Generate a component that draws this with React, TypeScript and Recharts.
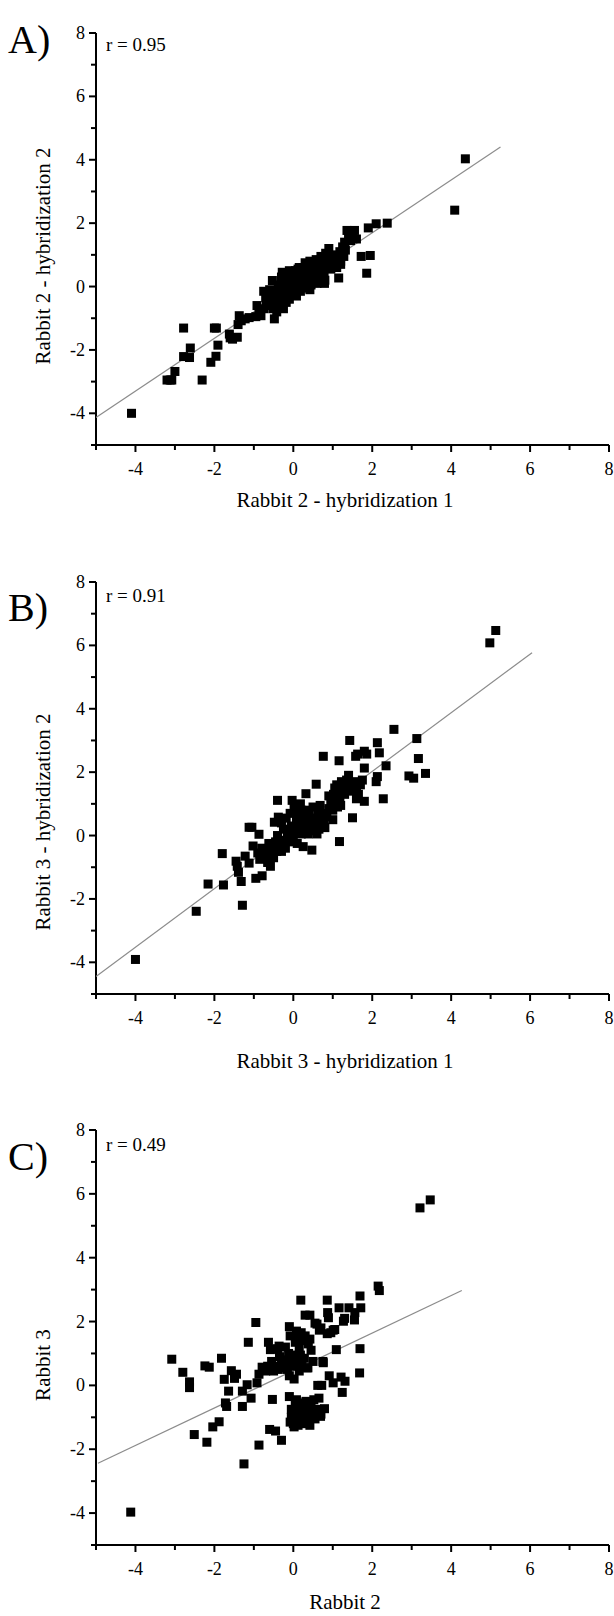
import React from "react";
import { ScatterChart, Scatter, XAxis, YAxis } from "recharts";

// ---------- data ----------
const axisTicks = [-5, -4, -3, -2, -1, 0, 1, 2, 3, 4, 5, 6, 7, 8];
const axisDomain: [number, number] = [-5, 8];

const pointsA: [number, number][] = [
  [-4.1, -4.0], [4.36, 4.03], [4.09, 2.41], [2.38, 2.0], [2.1, 1.98], [1.9, 1.85], [1.36, 1.77], [1.55, 1.77],
  [1.6, 1.5], [1.95, 0.98], [1.72, 0.95], [1.86, 0.42], [1.15, 0.27], [0.79, 0.1], [0.42, -0.1],
  [-2.78, -1.31], [-2.0, -1.31], [-1.95, -1.31], [-2.61, -1.94], [-2.78, -2.21], [-2.63, -2.24], [-1.91, -1.85],
  [-1.96, -2.2], [-2.09, -2.39], [-2.31, -2.95], [-3.2, -2.95], [-3.08, -2.95], [-3.0, -2.68], [-3.12, -2.95],
  [-1.62, -1.5], [-1.54, -1.66], [-1.42, -1.6], [-1.6, -1.62],
  [-1.37, -0.92], [-1.32, -1.08], [-1.22, -1.02], [-1.4, -1.2], [-1.12, -0.98],
  [-0.92, -0.6], [-0.82, -0.92], [-0.87, -0.81], [-0.95, -0.95], [-0.75, -0.7],
  [-0.48, -1.02], [-0.53, 0.19], [-0.28, 0.45],
  [-0.75, -0.15], [-0.7, -0.35], [-0.68, -0.5], [-0.65, -0.25], [-0.6, -0.6], [-0.6, -0.1], [-0.55, -0.45],
  [-0.52, -0.7], [-0.5, -0.3], [-0.48, -0.55], [-0.45, -0.15], [-0.42, -0.8], [-0.4, -0.4], [-0.38, 0.05],
  [-0.35, -0.6], [-0.32, -0.25], [-0.3, -0.45], [-0.28, -0.05], [-0.25, -0.7], [-0.22, -0.35], [-0.2, 0.1],
  [-0.18, -0.5], [-0.15, -0.2], [-0.12, 0.25], [-0.1, -0.4], [-0.08, 0.0], [-0.05, 0.35], [-0.03, -0.25],
  [0.0, 0.15], [0.02, -0.1], [0.05, 0.5], [0.05, 0.3], [0.08, -0.3], [0.1, 0.05], [0.12, 0.55], [0.15, 0.2],
  [0.18, -0.15], [0.2, 0.4], [0.22, 0.1], [0.25, 0.6], [0.28, 0.3], [0.3, -0.05], [0.32, 0.45], [0.35, 0.15],
  [0.38, 0.7], [0.4, 0.35], [0.42, 0.8], [0.45, 0.05], [0.48, 0.5], [0.5, 0.25], [0.52, 0.7], [0.55, 0.4],
  [0.58, 0.85], [0.6, 0.1], [0.62, 0.55], [0.65, 0.75], [0.68, 0.3], [0.7, 0.95], [0.72, 0.6], [0.75, 0.8],
  [0.78, 0.4], [0.8, 0.2], [0.82, 1.05], [0.85, 0.65], [0.9, 1.2], [0.92, 0.85], [0.95, 0.55], [1.0, 1.0],
  [1.05, 0.75], [1.1, 0.6], [1.12, 0.95], [1.18, 1.1], [1.2, 0.8], [1.25, 1.25], [1.28, 0.95], [1.3, 1.4],
  [1.32, 1.15], [1.4, 1.55], [1.45, 1.45], [1.5, 1.6], [1.2, 0.7], [1.0, 0.85], [0.88, 0.75], [-0.3, 0.3],
  [-0.1, 0.5], [0.15, 0.6], [0.3, 0.75], [0.45, 0.7],
];

const pointsB: [number, number][] = [
  [-4.0, -3.91], [4.98, 6.08], [5.13, 6.47], [-2.46, -2.39], [-2.16, -1.53], [-1.77, -1.56], [-1.8, -0.57],
  [-1.29, -2.2], [2.55, 3.35], [1.43, 3.0], [2.13, 2.93], [3.13, 3.06], [3.17, 2.43], [3.35, 1.96],
  [2.93, 1.88], [3.05, 1.81], [2.35, 2.2], [2.18, 2.61], [1.8, 2.66], [1.86, 2.57], [1.58, 2.5], [1.63, 2.57],
  [1.8, 2.13], [2.13, 1.86], [2.1, 1.7], [2.28, 1.16], [1.8, 1.08], [1.6, 1.16], [1.5, 0.56], [1.16, 2.36],
  [0.76, 2.5], [0.58, 1.62], [0.32, 1.32], [-0.4, 1.11], [-0.03, 1.11], [1.17, -0.19], [0.47, -0.46],
  [-1.05, 0.26], [-1.12, 0.26], [-0.87, 0.04], [-1.02, -0.33], [-0.95, -1.35], [-0.79, -1.27], [-0.58, -0.97],
  [-1.45, -0.81], [-1.42, -0.97], [-1.39, -1.16], [-1.32, -1.45], [-1.22, -0.65], [-1.12, -0.87],
  [-0.48, 0.42], [-0.38, 0.58],
  [-0.9, -0.55], [-0.85, -0.75], [-0.8, -0.4], [-0.75, -0.65], [-0.7, -0.5], [-0.65, -0.85], [-0.62, -0.25],
  [-0.6, -0.6], [-0.55, -0.35], [-0.5, -0.7], [-0.45, -0.2], [-0.42, -0.5], [-0.4, 0.0], [-0.35, -0.35],
  [-0.3, 0.4], [-0.28, -0.15], [-0.25, 0.2], [-0.2, -0.4], [-0.18, 0.55], [-0.15, 0.05], [-0.1, -0.2],
  [-0.08, 0.7], [-0.05, 0.3], [0.0, -0.05], [0.02, 0.9], [0.05, 0.15], [0.08, 0.5], [0.1, -0.25],
  [0.12, 0.75], [0.15, 0.3], [0.18, 1.0], [0.2, 0.05], [0.22, 0.55], [0.25, -0.35], [0.28, 0.2], [0.3, 0.8],
  [0.35, 0.45], [0.38, 0.05], [0.4, 0.65], [0.45, 0.3], [0.5, 0.9], [0.52, 0.15], [0.55, 0.55], [0.6, 0.35],
  [0.62, 0.75], [0.65, 0.2], [0.68, 0.95], [0.7, 0.5], [0.72, 0.3], [0.75, 0.7], [0.78, 0.45], [0.8, 0.25],
  [0.85, 0.6], [0.9, 0.85], [0.95, 1.1], [1.0, 0.8], [1.02, 1.3], [1.05, 1.5], [1.08, 1.0], [1.1, 1.6],
  [1.12, 0.9], [1.15, 1.35], [1.18, 1.2], [1.2, 1.55], [1.22, 1.7], [1.25, 1.45], [1.3, 1.3], [1.32, 1.6],
  [1.35, 1.75], [1.4, 1.5], [1.45, 1.65], [1.5, 1.4], [1.55, 1.7], [1.6, 1.55], [1.65, 1.3], [1.7, 1.6],
  [1.75, 1.75], [1.0, 0.5], [0.9, 1.25], [1.1, 1.2], [1.2, 0.95], [0.2, 0.8], [-0.3, -0.5], [0.6, 0.05],
  [1.4, 1.9],
];

const pointsC: [number, number][] = [
  [-4.12, -3.97], [3.21, 5.56], [3.47, 5.81], [2.15, 3.11], [2.18, 2.97], [-3.08, 0.82], [-2.8, 0.41],
  [-2.63, 0.11], [-2.63, -0.07], [-2.24, 0.61], [-2.13, 0.57], [-1.82, 0.85], [-0.95, 1.97], [-1.14, 1.35],
  [-2.51, -1.54], [-2.19, -1.78], [-2.04, -1.3], [-1.88, -1.14], [-1.72, -0.55], [-1.69, -0.66],
  [-1.75, 0.19], [-1.49, 0.22], [-1.57, 0.46], [-1.44, 0.35], [-1.64, -0.18], [-1.29, -0.18], [-1.17, 0.02],
  [-1.07, -0.4], [-1.29, -0.66], [-1.25, -2.46], [-0.87, -1.87], [-0.3, -1.72], [-0.6, -1.38], [-0.45, -1.43],
  [-0.53, -0.44], [-0.92, 0.08], [-0.87, 0.35], [-0.79, 0.57], [-0.63, 1.35], [-0.58, 1.12], [-0.36, 1.23],
  [-0.1, 1.84], [0.19, 2.67], [0.86, 2.67], [0.3, 2.2], [0.42, 2.2], [0.6, 1.92], [0.66, 1.73], [0.87, 2.28],
  [0.89, 2.12], [1.16, 2.43], [1.41, 2.43], [1.69, 2.8], [1.56, 2.28], [1.71, 2.43], [1.27, 2.01], [1.01, 1.73],
  [0.86, 1.62], [1.09, 1.12], [1.69, 1.15], [1.68, 0.39], [0.76, 0.71], [0.37, 0.55], [0.62, 0.0], [0.72, 0.0],
  [0.91, 0.3], [1.01, 0.08], [1.21, 0.26], [1.31, 0.13], [1.24, -0.22], [0.79, -0.73], [0.69, -0.97],
  [-0.6, 0.55], [-0.55, 0.75], [-0.5, 0.45], [-0.45, 0.6], [-0.4, 1.15], [-0.38, 0.5], [-0.3, 0.65],
  [-0.25, 0.55], [-0.2, 0.8], [-0.15, 0.5], [-0.12, 1.0], [-0.1, 0.3], [-0.08, 1.55], [-0.05, 0.75],
  [0.0, 0.95], [0.02, 0.2], [0.05, 1.35], [0.05, 0.6], [0.08, 1.7], [0.1, 0.85], [0.12, 1.5], [0.15, 0.45],
  [0.15, 1.2], [0.18, 0.95], [0.2, 1.65], [0.22, 0.65], [0.25, 1.4], [0.28, 0.85], [0.3, 1.55], [0.35, 0.55],
  [0.38, 1.3], [0.42, 1.45], [0.45, 1.1], [0.5, 0.75], [0.55, 1.95], [0.7, 1.8], [0.75, 0.75], [0.95, 1.65],
  [1.05, 1.75], [1.3, 2.1], [1.55, 2.05], [-0.7, 0.45], [-0.65, 0.6], [-0.35, 0.9], [-0.2, 1.2],
  [-0.1, -0.35], [-0.05, -0.75], [-0.05, -1.0], [0.0, -1.2], [0.0, -0.85], [0.02, -1.3], [0.05, -0.6],
  [0.08, -1.05], [0.1, -0.9], [0.12, -1.25], [0.15, -0.7], [0.18, -1.1], [0.2, -0.55], [0.22, -0.95],
  [0.25, -1.2], [0.28, -0.8], [0.3, -1.0], [0.32, -0.5], [0.35, -1.15], [0.38, -0.75], [0.4, -0.95],
  [0.42, -1.25], [0.45, -0.6], [0.5, -0.85], [0.52, -0.45], [0.55, -1.05], [0.6, -0.75], [0.65, -0.4],
  [0.7, -0.9], [0.08, -0.45], [-0.08, -1.15], [0.12, -0.6],
];

const fitA: [number, number][] = [[-5, -4.13], [5.25, 4.4]];
const fitB: [number, number][] = [[-5, -4.45], [6.05, 5.77]];
const fitC: [number, number][] = [[-4.95, -2.44], [4.27, 2.97]];

const panelLetters = ["A)", "B)", "C)"];
const rLabels = ["r = 0.95", "r = 0.91", "r = 0.49"];
const xTitles = ["Rabbit 2 - hybridization 1", "Rabbit 3 - hybridization 1", "Rabbit 2"];
const yTitles = ["Rabbit 2 - hybridization 2", "Rabbit 3 - hybridization 2", "Rabbit 3"];

// ---------- styling / layout ----------
const FONT = "'Liberation Serif', 'Times New Roman', 'DejaVu Serif', serif";
const TICK_FONT = 18;

const toObjs = (arr: [number, number][]) => arr.map(([x, y]) => ({ x, y }));

const XTick = (props: any) => {
  const { x, y, payload } = props;
  const v = payload.value;
  const major = v % 2 === 0;
  return (
    <g>
      <line x1={x} x2={x} y1={y} y2={y + (major ? 7 : 5)} stroke="#000" strokeWidth={2} />
      {major && (
        <text x={x} y={y + 30} textAnchor="middle" fontFamily={FONT} fontSize={TICK_FONT} fill="#000">
          {String(v)}
        </text>
      )}
    </g>
  );
};

const YTick = (props: any) => {
  const { x, y, payload } = props;
  const v = payload.value;
  const major = v % 2 === 0;
  return (
    <g>
      <line x1={x} x2={x - (major ? 7 : 5)} y1={y} y2={y} stroke="#000" strokeWidth={2} />
      {major && (
        <text x={x - 11} y={y + 6} textAnchor="end" fontFamily={FONT} fontSize={TICK_FONT} fill="#000">
          {String(v)}
        </text>
      )}
    </g>
  );
};

const Square = (props: any) => {
  const { cx, cy } = props;
  if (cx == null || cy == null) return <g />;
  return <rect x={cx - 4.5} y={cy - 4.5} width={9} height={9} fill="#000" />;
};

const Empty = () => <g />;

type PanelProps = {
  top: number;
  plotTop: number;
  plotBottom: number;
  points: [number, number][];
  fit: [number, number][];
  idx: number;
  letterY: number;
  rY: number;
  xTitleY: number;
  yTitleY: number;
};

const PLOT_LEFT = 96;
const PLOT_RIGHT = 609;
const WIDTH = 614;

const Txt = ({ x, y, size, children, rotate, anchor }: any) => (
  <div
    style={{
      position: "absolute",
      left: x,
      top: y,
      transform: `translate(${anchor === "left" ? "0" : "-50%"}, -50%)${rotate ? " rotate(-90deg)" : ""}`,
      fontFamily: FONT,
      fontSize: size,
      lineHeight: 1,
      whiteSpace: "nowrap",
      color: "#000",
    }}
  >
    {children}
  </div>
);

const Panel = ({ top, plotTop, plotBottom, points, fit, idx, letterY, rY, xTitleY, yTitleY }: PanelProps) => {
  const xAxisH = 50;
  const bottomPad = 20;
  const height = plotBottom - top + xAxisH + bottomPad;
  return (
    <>
      <div style={{ position: "absolute", left: 0, top, width: WIDTH, height }}>
        <ScatterChart
          width={WIDTH}
          height={height}
          margin={{ top: plotTop - top, right: WIDTH - PLOT_RIGHT, bottom: bottomPad, left: PLOT_LEFT - 60 }}
        >
          <XAxis
            type="number"
            dataKey="x"
            domain={axisDomain}
            ticks={axisTicks}
            interval={0}
            tick={<XTick />}
            tickLine={false}
            tickSize={0}
            tickMargin={0}
            height={xAxisH}
            axisLine={{ stroke: "#000", strokeWidth: 2 }}
            allowDataOverflow
          />
          <YAxis
            type="number"
            dataKey="y"
            domain={axisDomain}
            ticks={axisTicks}
            interval={0}
            tick={<YTick />}
            tickLine={false}
            tickSize={0}
            tickMargin={0}
            width={60}
            axisLine={{ stroke: "#000", strokeWidth: 2 }}
            allowDataOverflow
          />
          <Scatter
            data={toObjs(fit)}
            line={{ stroke: "#8c8c8c", strokeWidth: 1.2 }}
            shape={<Empty />}
            isAnimationActive={false}
          />
          <Scatter data={toObjs(points)} shape={<Square />} isAnimationActive={false} />
        </ScatterChart>
      </div>
      <Txt x={8} y={letterY} size={40} anchor="left">{panelLetters[idx]}</Txt>
      <Txt x={106} y={rY} size={19} anchor="left">{rLabels[idx]}</Txt>
      <Txt x={345} y={xTitleY} size={21}>{xTitles[idx]}</Txt>
      <Txt x={43} y={yTitleY} size={21} rotate>{yTitles[idx]}</Txt>
    </>
  );
};

export default function App() {
  return (
    <div style={{ position: "absolute", left: 0, top: 0, width: 614, height: 1616, background: "#fff" }}>
      <Panel top={0} plotTop={33} plotBottom={445} points={pointsA} fit={fitA} idx={0}
        letterY={40} rY={44} xTitleY={500} yTitleY={256} />
      <Panel top={530} plotTop={582} plotBottom={994} points={pointsB} fit={fitB} idx={1}
        letterY={608} rY={595} xTitleY={1061} yTitleY={822} />
      <Panel top={1075} plotTop={1130} plotBottom={1545} points={pointsC} fit={fitC} idx={2}
        letterY={1157} rY={1144} xTitleY={1602} yTitleY={1365} />
    </div>
  );
}
